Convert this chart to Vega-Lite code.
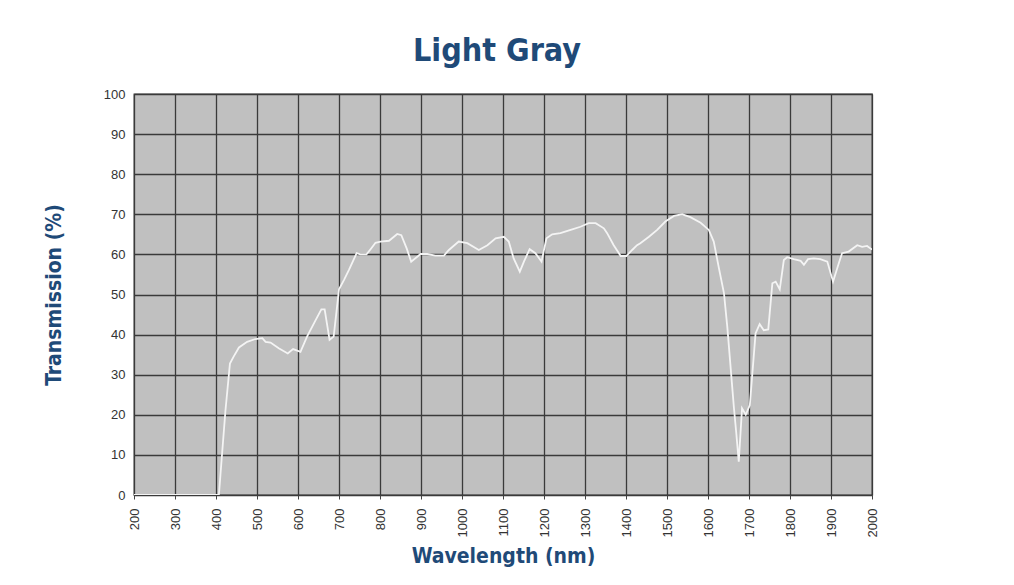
{
  "$schema": "https://vega.github.io/schema/vega-lite/v6.json",
  "autosize": {"type": "none"},
  "padding": {"left": 134, "top": 94, "right": 142, "bottom": 90},
  "width": 738,
  "height": 401,
  "background": "white",
  "title": {
    "text": "Light Gray",
    "font": "DejaVu Sans Condensed",
    "fontSize": 32,
    "fontWeight": "bold",
    "color": "#1f4a78",
    "anchor": "middle",
    "dx": -6,
    "offset": 20
  },
  "data": {
    "values": [
      {"wavelength": 200, "transmission": 0},
      {"wavelength": 407, "transmission": 0},
      {"wavelength": 423, "transmission": 21},
      {"wavelength": 434, "transmission": 32.8},
      {"wavelength": 443, "transmission": 34.5},
      {"wavelength": 456, "transmission": 36.8},
      {"wavelength": 476, "transmission": 38.2},
      {"wavelength": 496, "transmission": 38.9},
      {"wavelength": 513, "transmission": 39.1},
      {"wavelength": 521, "transmission": 38.2},
      {"wavelength": 533, "transmission": 38.0},
      {"wavelength": 553, "transmission": 36.6},
      {"wavelength": 575, "transmission": 35.3},
      {"wavelength": 588, "transmission": 36.4},
      {"wavelength": 606, "transmission": 35.7},
      {"wavelength": 622, "transmission": 39.5},
      {"wavelength": 643, "transmission": 43.6},
      {"wavelength": 657, "transmission": 46.3},
      {"wavelength": 665, "transmission": 46.3},
      {"wavelength": 677, "transmission": 38.7},
      {"wavelength": 687, "transmission": 39.5},
      {"wavelength": 700, "transmission": 51.3},
      {"wavelength": 712, "transmission": 53.6},
      {"wavelength": 724, "transmission": 56.1},
      {"wavelength": 743, "transmission": 60.3},
      {"wavelength": 752, "transmission": 60.0},
      {"wavelength": 767, "transmission": 60.0},
      {"wavelength": 777, "transmission": 61.3},
      {"wavelength": 789, "transmission": 62.9},
      {"wavelength": 801, "transmission": 63.2},
      {"wavelength": 822, "transmission": 63.4},
      {"wavelength": 842, "transmission": 65.1},
      {"wavelength": 852, "transmission": 64.8},
      {"wavelength": 865, "transmission": 61.5},
      {"wavelength": 876, "transmission": 58.2},
      {"wavelength": 899, "transmission": 60.1},
      {"wavelength": 915, "transmission": 60.1},
      {"wavelength": 935, "transmission": 59.7},
      {"wavelength": 956, "transmission": 59.7},
      {"wavelength": 968, "transmission": 61.1},
      {"wavelength": 992, "transmission": 63.2},
      {"wavelength": 1013, "transmission": 62.8},
      {"wavelength": 1041, "transmission": 61.1},
      {"wavelength": 1062, "transmission": 62.3},
      {"wavelength": 1082, "transmission": 64.0},
      {"wavelength": 1102, "transmission": 64.4},
      {"wavelength": 1114, "transmission": 63.2},
      {"wavelength": 1126, "transmission": 59.0},
      {"wavelength": 1141, "transmission": 55.7},
      {"wavelength": 1151, "transmission": 58.2},
      {"wavelength": 1165, "transmission": 61.3},
      {"wavelength": 1179, "transmission": 60.3},
      {"wavelength": 1194, "transmission": 58.2},
      {"wavelength": 1206, "transmission": 64.0},
      {"wavelength": 1220, "transmission": 65.0},
      {"wavelength": 1240, "transmission": 65.3},
      {"wavelength": 1265, "transmission": 66.1},
      {"wavelength": 1289, "transmission": 66.9},
      {"wavelength": 1309, "transmission": 67.8},
      {"wavelength": 1326, "transmission": 67.8},
      {"wavelength": 1346, "transmission": 66.5},
      {"wavelength": 1354, "transmission": 65.3},
      {"wavelength": 1370, "transmission": 62.3},
      {"wavelength": 1387, "transmission": 59.6},
      {"wavelength": 1401, "transmission": 59.6},
      {"wavelength": 1415, "transmission": 61.1},
      {"wavelength": 1427, "transmission": 62.3},
      {"wavelength": 1435, "transmission": 62.8},
      {"wavelength": 1456, "transmission": 64.4},
      {"wavelength": 1476, "transmission": 66.1},
      {"wavelength": 1496, "transmission": 68.2},
      {"wavelength": 1517, "transmission": 69.6},
      {"wavelength": 1537, "transmission": 70.0},
      {"wavelength": 1557, "transmission": 69.3},
      {"wavelength": 1582, "transmission": 67.9},
      {"wavelength": 1602, "transmission": 66.1},
      {"wavelength": 1614, "transmission": 63.2},
      {"wavelength": 1626, "transmission": 56.9},
      {"wavelength": 1639, "transmission": 50.3},
      {"wavelength": 1647, "transmission": 42.0},
      {"wavelength": 1655, "transmission": 32.0},
      {"wavelength": 1663, "transmission": 22.0},
      {"wavelength": 1669, "transmission": 15.4},
      {"wavelength": 1675, "transmission": 8.3},
      {"wavelength": 1683, "transmission": 21.6},
      {"wavelength": 1692, "transmission": 20.0},
      {"wavelength": 1702, "transmission": 22.4},
      {"wavelength": 1716, "transmission": 40.3},
      {"wavelength": 1726, "transmission": 42.6},
      {"wavelength": 1736, "transmission": 41.1},
      {"wavelength": 1747, "transmission": 41.3},
      {"wavelength": 1757, "transmission": 52.8},
      {"wavelength": 1765, "transmission": 53.2},
      {"wavelength": 1775, "transmission": 51.3},
      {"wavelength": 1785, "transmission": 58.6},
      {"wavelength": 1793, "transmission": 59.3},
      {"wavelength": 1809, "transmission": 58.8},
      {"wavelength": 1826, "transmission": 58.4},
      {"wavelength": 1834, "transmission": 57.4},
      {"wavelength": 1844, "transmission": 58.8},
      {"wavelength": 1858, "transmission": 59.0},
      {"wavelength": 1874, "transmission": 58.8},
      {"wavelength": 1891, "transmission": 58.2},
      {"wavelength": 1905, "transmission": 53.2},
      {"wavelength": 1919, "transmission": 57.8},
      {"wavelength": 1927, "transmission": 60.3},
      {"wavelength": 1943, "transmission": 60.7},
      {"wavelength": 1964, "transmission": 62.3},
      {"wavelength": 1976, "transmission": 61.9},
      {"wavelength": 1988, "transmission": 62.1},
      {"wavelength": 2000, "transmission": 61.2}
    ]
  },
  "mark": {"type": "line", "color": "#f4f4f4", "strokeWidth": 1.8, "clip": true},
  "encoding": {
    "x": {
      "field": "wavelength",
      "type": "quantitative",
      "scale": {"domain": [200, 2000], "nice": false, "zero": false},
      "axis": {
        "title": "Wavelength (nm)",
        "values": [200, 300, 400, 500, 600, 700, 800, 900, 1000, 1100, 1200, 1300, 1400, 1500, 1600, 1700, 1800, 1900, 2000],
        "format": "d",
        "labelAngle": -90,
        "labelFontSize": 13,
        "labelFont": "Liberation Sans",
        "labelColor": "#333333",
        "labelPadding": 9,
        "labelOverlap": false,
        "labelFlush": false,
        "tickSize": 4,
        "tickColor": "#444444",
        "domain": false,
        "grid": true,
        "gridColor": "#3a3a3a",
        "gridWidth": 1.3,
        "titleFont": "DejaVu Sans Condensed",
        "titleFontSize": 21,
        "titleFontWeight": "bold",
        "titleColor": "#1f4a78",
        "titlePadding": 9
      }
    },
    "y": {
      "field": "transmission",
      "type": "quantitative",
      "scale": {"domain": [0, 100], "nice": false},
      "axis": {
        "title": "Transmission (%)",
        "values": [0, 10, 20, 30, 40, 50, 60, 70, 80, 90, 100],
        "labelFontSize": 13,
        "labelFont": "Liberation Sans",
        "labelColor": "#333333",
        "labelPadding": 9,
        "labelFlush": false,
        "ticks": false,
        "domain": false,
        "grid": true,
        "gridColor": "#3a3a3a",
        "gridWidth": 1.3,
        "titleFont": "DejaVu Sans Condensed",
        "titleFontSize": 21,
        "titleFontWeight": "bold",
        "titleColor": "#1f4a78",
        "titlePadding": 39
      }
    }
  },
  "config": {
    "view": {"fill": "#c0c0c0", "stroke": "#3a3a3a", "strokeWidth": 1.3}
  }
}
